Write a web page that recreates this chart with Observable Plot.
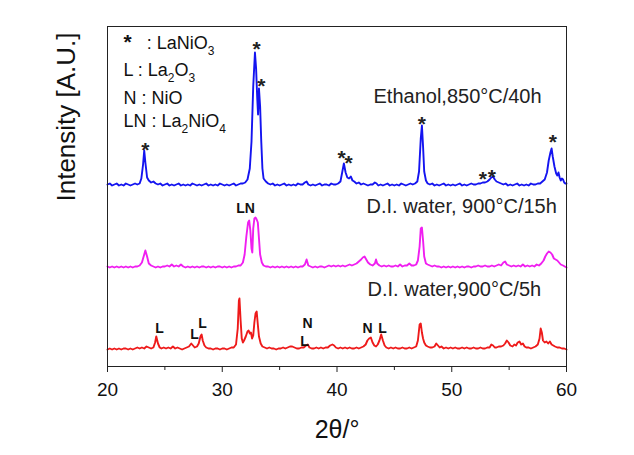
<!DOCTYPE html>
<html>
<head>
<meta charset="utf-8">
<script src="https://cdn.jsdelivr.net/npm/d3@7"></script>
<script src="https://cdn.jsdelivr.net/npm/@observablehq/plot@0.6"></script>
<style>
  html, body { margin: 0; padding: 0; background: #fff; }
  #chart { width: 634px; height: 455px; }
</style>
</head>
<body>
<div id="chart"></div>
<script>
// ---------------- DATA ----------------
const seriesNames = ["Ethanol,850°C/40h", "D.I. water, 900°C/15h", "D.I. water,900°C/5h"];
const seriesOffsets = [180, 98, 16]; // vertical stacking offsets (A.U.)

// [2θ, intensity above baseline (A.U.)]
const ethanol850 = [[20.0,2],[20.2,3],[20.4,1],[20.6,2],[20.8,3],[21.0,1],[21.2,2],[21.4,1],[21.6,3],[21.8,2],[22.0,1],[22.2,2],[22.4,3],[22.6,2],[22.8,3],[22.95,8],[23.1,22],[23.2,36],[23.3,24],[23.45,9],[23.6,6],[23.8,4],[24.0,5],[24.2,3],[24.4,2],[24.6,3],[24.8,1],[25.0,2],[25.2,3],[25.4,1],[25.6,2],[25.8,1],[26.0,2],[26.2,3],[26.4,1],[26.6,2],[26.8,1],[27.0,2],[27.2,1],[27.4,3],[27.6,2],[27.8,1],[28.0,2],[28.2,1],[28.4,2],[28.6,3],[28.8,1],[29.0,2],[29.2,1],[29.4,2],[29.6,1],[29.8,3],[30.0,2],[30.2,1],[30.4,2],[30.6,1],[30.8,2],[31.0,3],[31.2,1],[31.4,2],[31.6,3],[31.8,3],[32.0,4],[32.2,7],[32.4,18],[32.55,45],[32.7,100],[32.85,134],[32.95,118],[33.05,88],[33.12,72],[33.2,98],[33.3,80],[33.4,45],[33.5,18],[33.6,8],[33.8,5],[34.0,3],[34.2,2],[34.4,3],[34.6,1],[34.8,2],[35.0,1],[35.2,2],[35.4,3],[35.6,1],[35.8,2],[36.0,1],[36.2,2],[36.4,1],[36.6,3],[36.8,2],[37.0,2],[37.2,4],[37.35,5],[37.5,2],[37.7,1],[37.9,2],[38.1,1],[38.3,2],[38.5,3],[38.7,1],[38.9,2],[39.1,2],[39.3,1],[39.5,3],[39.7,2],[39.9,2],[40.1,3],[40.3,5],[40.45,14],[40.6,23],[40.75,14],[40.9,9],[41.05,8],[41.2,10],[41.35,6],[41.5,5],[41.7,3],[41.9,4],[42.1,2],[42.3,3],[42.5,2],[42.7,1],[42.9,2],[43.1,2],[43.3,4],[43.45,3],[43.6,1],[43.8,2],[44.0,1],[44.2,2],[44.4,3],[44.6,1],[44.8,2],[45.0,1],[45.2,2],[45.4,1],[45.6,3],[45.8,2],[46.0,1],[46.2,2],[46.4,3],[46.6,2],[46.8,3],[47.0,5],[47.15,15],[47.3,48],[47.4,61],[47.5,40],[47.6,15],[47.75,6],[47.9,3],[48.1,2],[48.3,3],[48.5,1],[48.7,2],[48.9,1],[49.1,2],[49.3,3],[49.5,1],[49.7,2],[49.9,1],[50.1,2],[50.3,1],[50.5,2],[50.7,3],[50.9,1],[51.1,2],[51.3,1],[51.5,2],[51.7,3],[51.9,2],[52.1,2],[52.3,3],[52.5,3],[52.7,4],[52.9,4],[53.1,5],[53.3,7],[53.45,9],[53.6,10],[53.75,7],[53.9,5],[54.1,4],[54.3,3],[54.5,2],[54.7,3],[54.9,1],[55.1,2],[55.3,1],[55.5,2],[55.7,3],[55.9,1],[56.1,2],[56.3,1],[56.5,2],[56.7,1],[56.9,3],[57.1,2],[57.3,2],[57.5,3],[57.7,3],[57.9,5],[58.1,7],[58.3,14],[58.45,26],[58.6,34],[58.7,38],[58.8,30],[58.95,20],[59.1,13],[59.2,11],[59.3,14],[59.4,9],[59.5,6],[59.6,8],[59.7,7],[59.8,4],[59.9,3],[60.0,3]];

const water900_15h = [[20.0,2],[20.2,1],[20.4,2],[20.6,1],[20.8,2],[21.0,1],[21.2,2],[21.4,1],[21.6,2],[21.8,1],[22.0,2],[22.2,1],[22.4,2],[22.6,2],[22.8,3],[23.0,6],[23.15,12],[23.3,18],[23.45,12],[23.6,5],[23.8,3],[24.0,2],[24.2,1],[24.4,2],[24.6,1],[24.8,2],[25.0,2],[25.2,3],[25.4,2],[25.6,4],[25.8,2],[26.0,3],[26.2,2],[26.4,4],[26.6,2],[26.8,1],[27.0,2],[27.2,1],[27.4,2],[27.6,1],[27.8,2],[28.0,1],[28.2,2],[28.4,2],[28.6,1],[28.8,2],[29.0,1],[29.2,2],[29.4,1],[29.6,2],[29.8,2],[30.0,1],[30.2,2],[30.4,1],[30.6,2],[30.8,1],[31.0,2],[31.2,2],[31.4,3],[31.6,3],[31.8,6],[31.95,14],[32.1,32],[32.25,46],[32.35,48],[32.45,38],[32.55,20],[32.62,16],[32.7,40],[32.8,50],[32.9,51],[33.0,49],[33.1,46],[33.2,30],[33.3,14],[33.45,6],[33.6,3],[33.8,2],[34.0,2],[34.2,1],[34.4,2],[34.6,1],[34.8,2],[35.0,1],[35.2,2],[35.4,1],[35.6,2],[35.8,1],[36.0,2],[36.2,1],[36.4,2],[36.6,1],[36.8,2],[37.0,2],[37.2,4],[37.35,9],[37.5,3],[37.7,2],[37.9,1],[38.1,2],[38.3,1],[38.5,2],[38.7,2],[38.9,1],[39.1,2],[39.3,3],[39.5,2],[39.7,3],[39.9,2],[40.1,3],[40.3,2],[40.5,3],[40.7,2],[40.9,3],[41.1,4],[41.3,3],[41.5,4],[41.7,5],[41.9,7],[42.1,9],[42.25,11],[42.4,12],[42.55,9],[42.7,6],[42.9,4],[43.1,3],[43.3,5],[43.4,9],[43.5,5],[43.7,3],[43.9,2],[44.1,3],[44.3,2],[44.5,3],[44.7,2],[44.9,2],[45.1,3],[45.3,2],[45.5,4],[45.7,2],[45.9,3],[46.1,3],[46.3,5],[46.5,3],[46.7,3],[46.9,4],[47.05,8],[47.2,22],[47.3,40],[47.4,41],[47.5,28],[47.6,12],[47.75,5],[47.9,4],[48.1,3],[48.3,2],[48.5,3],[48.7,2],[48.9,2],[49.1,1],[49.3,2],[49.5,1],[49.7,2],[49.9,1],[50.1,2],[50.3,1],[50.5,2],[50.7,1],[50.9,2],[51.1,1],[51.3,2],[51.5,2],[51.7,1],[51.9,2],[52.1,2],[52.3,3],[52.5,2],[52.7,2],[52.9,3],[53.1,2],[53.3,2],[53.5,3],[53.7,2],[53.9,3],[54.1,4],[54.3,3],[54.5,6],[54.65,7],[54.8,4],[55.0,3],[55.2,2],[55.4,3],[55.6,2],[55.8,3],[56.0,2],[56.2,4],[56.4,2],[56.6,3],[56.8,2],[57.0,3],[57.2,2],[57.4,4],[57.6,3],[57.8,5],[58.0,8],[58.15,12],[58.3,15],[58.45,17],[58.6,16],[58.75,14],[58.9,10],[59.05,9],[59.2,8],[59.35,6],[59.5,4],[59.7,3],[59.85,2],[60.0,1]];

const water900_5h = [[20.0,1],[20.2,2],[20.4,1],[20.6,2],[20.8,1],[21.0,2],[21.2,1],[21.4,2],[21.6,2],[21.8,1],[22.0,2],[22.2,1],[22.4,2],[22.6,3],[22.8,2],[23.0,3],[23.2,2],[23.4,4],[23.6,3],[23.8,2],[24.0,3],[24.15,8],[24.25,14],[24.4,7],[24.55,3],[24.7,2],[24.9,3],[25.1,2],[25.3,3],[25.5,2],[25.7,4],[25.9,2],[26.1,3],[26.3,2],[26.5,1],[26.7,2],[26.9,3],[27.1,4],[27.3,7],[27.45,5],[27.6,3],[27.8,4],[27.95,7],[28.1,14],[28.2,16],[28.3,10],[28.45,5],[28.6,3],[28.8,2],[29.0,2],[29.2,1],[29.4,2],[29.6,2],[29.8,1],[30.0,2],[30.2,2],[30.4,1],[30.6,2],[30.8,3],[31.0,3],[31.2,6],[31.35,22],[31.45,50],[31.5,52],[31.6,30],[31.7,12],[31.8,8],[31.9,10],[32.05,14],[32.2,19],[32.3,20],[32.4,17],[32.5,18],[32.6,12],[32.7,15],[32.8,28],[32.9,37],[33.0,39],[33.1,26],[33.2,14],[33.35,7],[33.5,4],[33.7,3],[33.9,2],[34.1,3],[34.3,2],[34.5,2],[34.7,1],[34.9,2],[35.1,2],[35.3,3],[35.5,2],[35.7,3],[35.9,4],[36.1,4],[36.3,3],[36.5,2],[36.7,2],[36.9,3],[37.1,3],[37.3,5],[37.45,6],[37.6,3],[37.8,2],[38.0,2],[38.2,3],[38.4,2],[38.6,3],[38.8,2],[39.0,3],[39.2,3],[39.4,5],[39.6,6],[39.75,5],[39.9,3],[40.1,2],[40.3,3],[40.5,2],[40.7,3],[40.9,2],[41.1,3],[41.3,2],[41.5,2],[41.7,3],[41.9,2],[42.1,3],[42.3,4],[42.5,6],[42.65,10],[42.8,12],[42.95,13],[43.1,8],[43.25,5],[43.4,4],[43.55,6],[43.7,10],[43.85,16],[44.0,10],[44.15,5],[44.3,3],[44.5,2],[44.7,3],[44.9,2],[45.1,3],[45.3,2],[45.5,2],[45.7,3],[45.9,2],[46.1,2],[46.3,3],[46.5,2],[46.7,3],[46.9,4],[47.05,10],[47.2,26],[47.3,27],[47.4,18],[47.5,12],[47.6,8],[47.75,5],[47.9,4],[48.1,3],[48.3,3],[48.5,4],[48.65,7],[48.8,5],[48.95,3],[49.1,4],[49.3,2],[49.5,3],[49.7,2],[49.9,3],[50.1,2],[50.3,3],[50.5,2],[50.7,2],[50.9,3],[51.1,2],[51.3,3],[51.5,2],[51.7,2],[51.9,3],[52.1,2],[52.3,2],[52.5,3],[52.7,2],[52.9,2],[53.1,3],[53.3,3],[53.45,6],[53.6,5],[53.75,3],[53.9,3],[54.1,4],[54.3,4],[54.5,5],[54.65,7],[54.8,10],[54.95,8],[55.1,5],[55.3,4],[55.45,6],[55.6,5],[55.75,8],[55.9,9],[56.05,6],[56.2,7],[56.35,4],[56.5,3],[56.7,3],[56.9,2],[57.1,3],[57.3,4],[57.5,6],[57.65,12],[57.75,22],[57.85,18],[57.95,10],[58.1,8],[58.25,9],[58.4,7],[58.55,9],[58.7,6],[58.85,5],[59.0,4],[59.2,3],[59.4,3],[59.6,2],[59.8,2],[60.0,1]];

const majorTicks = [20, 30, 40, 50, 60];
const minorTicks = [25, 35, 45, 55];
const legendLabels = ["*\u00a0\u00a0\u00a0: LaNiO3", "L : La2O3", "N : NiO", "LN : La2NiO4"];
const peakStar = "*";
const phaseLabels = ["LN", "L", "L", "L", "N", "L", "N", "L"];
const xLabel = "2θ/°";
const yLabel = "Intensity [A.U.]";

// ---------------- LAYOUT (positions & styles) ----------------
const colors = ["#1414f0", "#f01ef0", "#ee1a1a"];
const seriesLabelPos = [[43.18, 264], [42.57, 154], [42.66, 71]];
const legendPos = [[21.39, 318], [21.39, 291], [21.39, 263], [21.39, 240]];
const starPos = [[23.3, 222], [33.0, 323], [33.4, 286], [40.4, 214], [41.0, 209], [47.4, 248], [52.7, 193], [53.5, 195], [58.8, 230]];
const phasePos = [[32.03, 154], [24.53, 34], [27.58, 28], [28.28, 39], [37.43, 39], [37.17, 21], [42.66, 34], [43.97, 34]];

const allSeries = [ethanol850, water900_15h, water900_5h];
const lineData = allSeries.flatMap((s, i) => s.map(([t, v]) => ({t, v: v + seriesOffsets[i], series: i})));
const seriesLabelData = seriesNames.map((name, i) => ({name, x: seriesLabelPos[i][0], y: seriesLabelPos[i][1]}));
const legendData = legendLabels.map((name, i) => ({name, x: legendPos[i][0], y: legendPos[i][1]}));
const starData = starPos.map(([x, y]) => ({name: peakStar, x, y}));
const phaseData = phaseLabels.map((name, i) => ({name, x: phasePos[i][0], y: phasePos[i][1]}));

const font = "'Liberation Sans', Arial, Helvetica, sans-serif";

const chart = Plot.plot({
  width: 634,
  height: 455,
  marginTop: 26,
  marginBottom: 89,
  marginLeft: 107,
  marginRight: 68,
  x: {domain: [20, 60]},
  y: {domain: [0, 340], axis: null},
  style: {fontFamily: font, background: "#fff", color: "#111"},
  marks: [
    ...[0, 1, 2].map(i => Plot.line(lineData.filter(d => d.series === i), {x: "t", y: "v", stroke: colors[i], strokeWidth: 1.9})),
    Plot.frame({stroke: "#222", strokeWidth: 1}),
    Plot.axisX(majorTicks, {tickSize: 6, tickPadding: 10, fontSize: 19, label: null, tickFormat: d => String(d), stroke: "#222"}),
    Plot.axisX(minorTicks, {tickSize: 4, label: null, tickFormat: () => "", stroke: "#222"}),
    Plot.text(seriesLabelData, {x: "x", y: "y", text: "name", textAnchor: "start", lineAnchor: "bottom", fontSize: 20, fill: "#222"}),
    Plot.text(legendData, {x: "x", y: "y", text: "name", textAnchor: "start", lineAnchor: "bottom", fontSize: 18, fill: "#111"}),
    Plot.text(starData, {x: "x", y: "y", text: "name", lineAnchor: "bottom", dy: 12, fontSize: 21, fontWeight: "bold", fill: "#222"}),
    Plot.text(phaseData, {x: "x", y: "y", text: "name", lineAnchor: "bottom", fontSize: 14, fontWeight: "bold", fill: "#111"}),
    Plot.text([xLabel], {text: d => d, frameAnchor: "bottom", dy: 71, fontSize: 25, fill: "#111"}),
    Plot.text([yLabel], {text: d => d, frameAnchor: "left", rotate: -90, dx: -41, dy: 5, fontSize: 26, fill: "#111"})
  ]
});

// subscripts for chemical formulas in the legend, larger bold star glyph
const legendSet = new Set(legendLabels);
chart.querySelectorAll("text").forEach(t => {
  const s = t.textContent;
  if (!legendSet.has(s)) return;
  t.textContent = "";
  const ns = "http://www.w3.org/2000/svg";
  let shifted = false;
  s.split(/(\d+|\*)/).forEach(part => {
    if (!part) return;
    const sp = document.createElementNS(ns, "tspan");
    sp.textContent = part;
    if (part === "*") {
      sp.setAttribute("font-size", "21");
      sp.setAttribute("font-weight", "bold");
    } else if (/^\d+$/.test(part)) {
      sp.setAttribute("font-size", "12");
      sp.setAttribute("dy", "6");
      shifted = true;
    } else if (shifted) {
      sp.setAttribute("dy", "-6");
      shifted = false;
    }
    t.appendChild(sp);
  });
});

document.getElementById("chart").appendChild(chart);
</script>
</body>
</html>
